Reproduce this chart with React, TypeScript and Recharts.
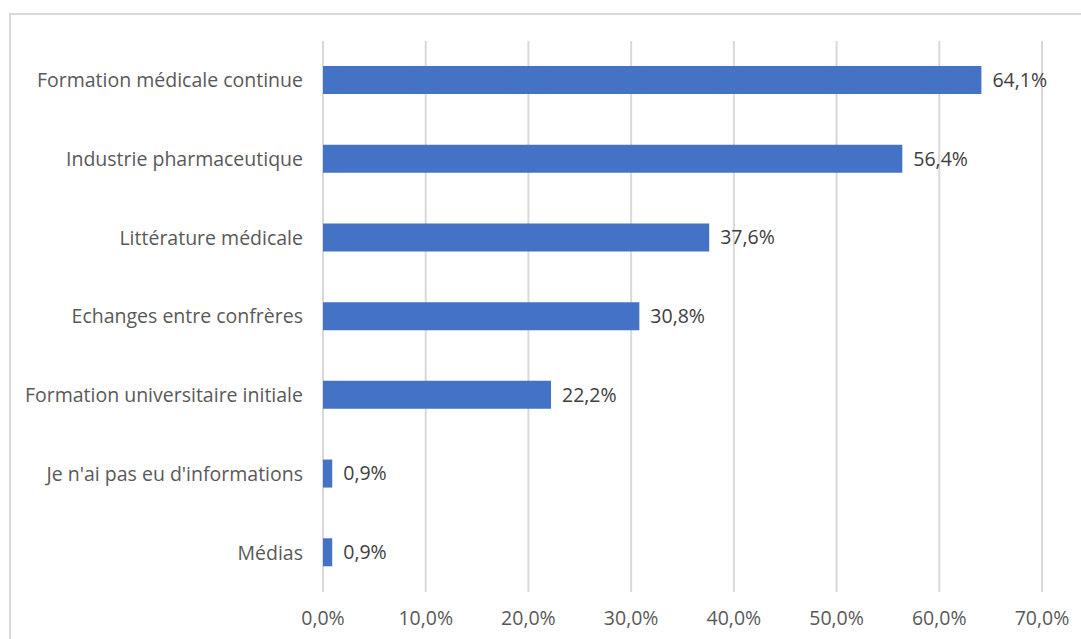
import React from 'react';
import { BarChart, Bar, XAxis, YAxis, CartesianGrid, LabelList } from 'recharts';

const categories = [
  'Formation médicale continue',
  'Industrie pharmaceutique',
  'Littérature médicale',
  'Echanges entre confrères',
  'Formation universitaire initiale',
  "Je n'ai pas eu d'informations",
  'Médias',
];
const values = [64.1, 56.4, 37.6, 30.8, 22.2, 0.9, 0.9];
const xTicks = [0, 10, 20, 30, 40, 50, 60, 70];

const data = categories.map((name, i) => ({ name, value: values[i] }));
const fmt = (v: number) => v.toFixed(1).replace('.', ',') + '%';
const FONT = '"Open Sans", sans-serif';

export default function App() {
  return (
    <div style={{ position: 'absolute', left: 0, top: 0, width: 1081, height: 639, background: '#fff', overflow: 'hidden', fontFamily: FONT }}>
      <div style={{ position: 'absolute', left: 9, top: 13, width: 1200, height: 700, border: '2px solid #d9d9d9', boxSizing: 'border-box' }} />
      <BarChart
        width={1081}
        height={639}
        data={data}
        layout="vertical"
        margin={{ top: 41, right: 39, bottom: 0, left: 0 }}
        barCategoryGap={0}
        style={{ position: 'absolute', left: 0, top: 0 }}
      >
        <CartesianGrid horizontal={false} vertical stroke="#d9d9d9" strokeWidth={2} />
        <XAxis
          type="number"
          domain={[0, 70]}
          ticks={xTicks}
          tickFormatter={fmt}
          axisLine={false}
          tickLine={false}
          tickSize={0}
          tickMargin={19}
          height={47}
          tick={{ fill: '#595959', fontSize: 19.5, fontFamily: FONT }}
          interval={0}
        />
        <YAxis
          type="category"
          dataKey="name"
          width={323}
          axisLine={false}
          tickLine={false}
          tickSize={0}
          tickMargin={20}
          tick={{ fill: '#595959', fontSize: 19.5, fontFamily: FONT }}
          interval={0}
        />
        <Bar dataKey="value" fill="#4472C4" barSize={28} isAnimationActive={false}>
          <LabelList dataKey="value" position="right" offset={11} formatter={(v: any) => fmt(Number(v))} style={{ fill: '#404040', fontSize: 19.5, fontFamily: FONT }} />
        </Bar>
      </BarChart>
    </div>
  );
}
